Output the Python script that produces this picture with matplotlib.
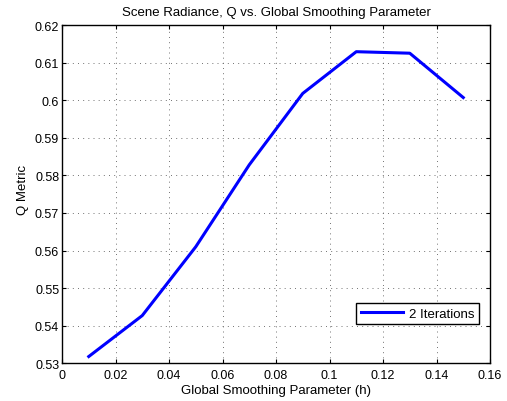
import matplotlib
matplotlib.use('Agg')
import matplotlib.pyplot as plt

# smoothing parameter h and Q metric (2 iterations)
h_values = [0.01, 0.03, 0.05, 0.07, 0.09, 0.11, 0.13, 0.15]
q_values = [0.5318, 0.5427, 0.5610, 0.5828, 0.6018, 0.6129, 0.6125, 0.6007]
x_ticks = [0, 0.02, 0.04, 0.06, 0.08, 0.1, 0.12, 0.14, 0.16]
x_tick_labels = ['0', '0.02', '0.04', '0.06', '0.08', '0.1', '0.12', '0.14', '0.16']
y_ticks = [0.53, 0.54, 0.55, 0.56, 0.57, 0.58, 0.59, 0.6, 0.61, 0.62]
y_tick_labels = ['0.53', '0.54', '0.55', '0.56', '0.57', '0.58', '0.59', '0.6', '0.61', '0.62']

plt.rcParams['font.family'] = ['Liberation Sans', 'DejaVu Sans']
plt.rcParams['font.size'] = 9

fig = plt.figure(figsize=(5.07, 4.02), dpi=100)
ax = fig.add_axes([0.1223, 0.0938, 0.8442, 0.8415])

ax.plot(h_values, q_values, color='#0000ff', linewidth=2.2, label='2 Iterations')

ax.set_xlim(0, 0.16)
ax.set_ylim(0.53, 0.62)
ax.set_xticks(x_ticks)
ax.set_xticklabels(x_tick_labels)
ax.set_yticks(y_ticks)
ax.set_yticklabels(y_tick_labels)
ax.tick_params(direction='in', top=True, right=True, length=3, width=0.8, labelsize=9)
ax.tick_params(axis='x', pad=4)
ax.tick_params(axis='y', pad=2)
for spine in ax.spines.values():
    spine.set_linewidth(1.0)

ax.grid(True, linestyle=(0, (1.2, 5)), color='#606060', linewidth=0.6)

ax.set_title('Scene Radiance, Q vs. Global Smoothing Parameter', fontsize=9.5, pad=7)
ax.set_xlabel('Global Smoothing Parameter (h)', fontsize=9.5, labelpad=2)
ax.set_ylabel('Q Metric', fontsize=9.5)
ax.yaxis.set_label_coords(-0.076, 0.515)

leg = ax.legend(loc='lower right', bbox_to_anchor=(0.989, 0.096), fontsize=9.5,
                fancybox=False, framealpha=1, edgecolor='black',
                handlelength=3.2, borderpad=0.35, handletextpad=0.4)
leg.get_frame().set_linewidth(1.0)

plt.savefig('out.png', dpi=100)
